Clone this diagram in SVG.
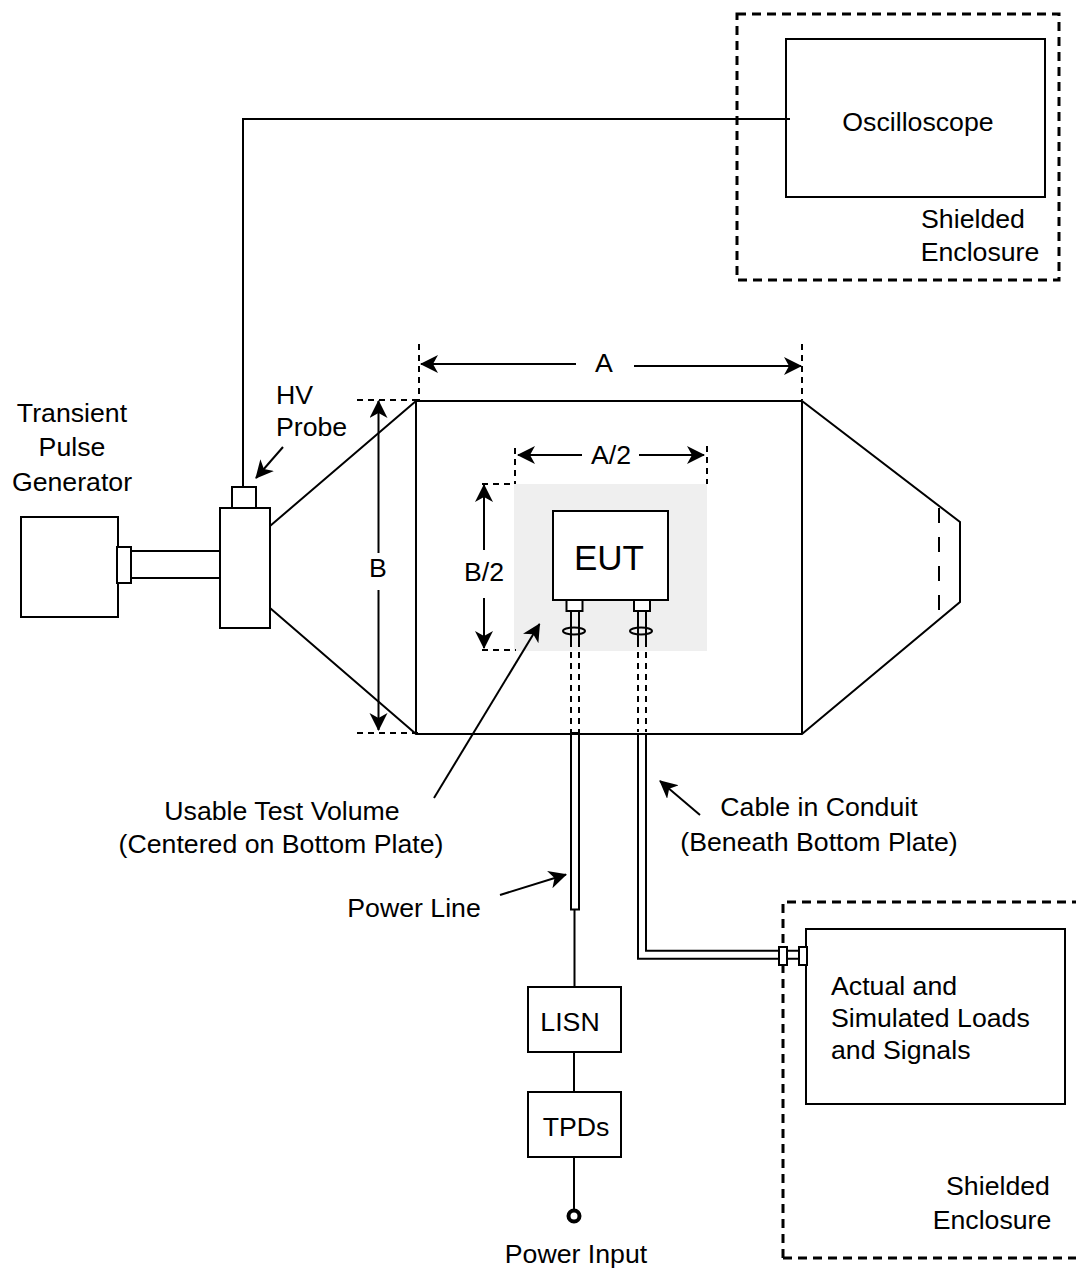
<svg xmlns="http://www.w3.org/2000/svg" width="1076" height="1270" viewBox="0 0 1076 1270">
<style>
text{font-family:"Liberation Sans",Arial,sans-serif;font-size:26.7px;fill:#000;text-anchor:middle}
.s{fill:none;stroke:#000;stroke-width:2}
.b{fill:#fff;stroke:#000;stroke-width:2}
.d{fill:none;stroke:#000;stroke-width:3;stroke-dasharray:9 6}
.e{fill:none;stroke:#000;stroke-width:2;stroke-dasharray:6 5}
.a{fill:none;stroke:#000;stroke-width:2;marker-end:url(#ah)}
</style>
<defs><marker id="ah" markerUnits="userSpaceOnUse" markerWidth="20" markerHeight="20" refX="17" refY="9" orient="auto"><path d="M0 0L18 9L0 18L5 9Z" fill="#000"/></marker></defs>
<rect id="test-volume" x="514" y="484" width="193" height="167" fill="#efefef"/>
<g id="connectors">
<path class="s" d="M243 488V119H786"/>
<path class="s" d="M270 526L416 401H802L960 522V602L802 734H416L270 608"/>
<path class="s" d="M416 401V734M802 401V734"/>
<path class="e" style="stroke-dasharray:15 14" d="M939 508V612"/>
<path class="s" d="M131 551H220M131 578H220"/>
<path class="e" d="M357 400H418M419 344V400M357 733H418M802 344V400M515 448V484M707 446V484M482 484H515M482 650H516"/>
<path class="a" d="M378.500 553V401"/><path class="a" d="M378.500 590V730"/>
<path class="a" d="M576 364H421"/><path class="a" d="M634 366H801"/>
<path class="a" d="M582 455H518"/><path class="a" d="M639 455H704"/>
<path class="a" d="M484 550V485"/><path class="a" d="M484 598V648"/>
<path class="a" d="M283 447L256 478"/>
<path class="a" d="M434 798L539.500 624"/>
<path class="a" d="M500 895L566 874.500"/>
<path class="a" d="M700 815L660 781"/>
<path class="s" d="M571 641V611M579 641V611M638 641V611M646 641V611"/>
<path class="e" d="M571 641V732M579 641V732M638 641V732M646 641V732"/>
<path class="s" d="M571 733V909.500H579V733ZM638 734V958.700H780M646 734V950.700H780M787 950.700H800M787 958.700H800"/>
<path class="s" d="M574.500 910V987M574 1052V1092M574 1157V1209"/>
<ellipse class="s" cx="574" cy="631" rx="11" ry="3.500"/>
<ellipse class="s" cx="641" cy="631" rx="11" ry="3.500"/>
<circle cx="574" cy="1216" r="5.500" fill="#fff" stroke="#000" stroke-width="4"/>
</g>
<g id="oscilloscope"><rect class="b" x="786" y="39" width="259" height="158"/><path class="s" d="M785 119H790"/><text x="918" y="131">Oscilloscope</text></g>
<g id="shield-top"><rect class="d" x="737" y="14" width="322" height="266"/><text x="973" y="228">Shielded</text><text x="980" y="261">Enclosure</text></g>
<g id="generator"><rect class="b" x="21" y="517" width="97" height="100"/><rect class="b" x="117" y="547" width="14" height="36"/><text x="72" y="422">Transient</text><text x="72" y="456">Pulse</text><text x="72" y="491">Generator</text></g>
<g id="probe"><rect class="b" x="232" y="487" width="24" height="21"/><rect class="b" x="220" y="508" width="50" height="120"/><text x="276" y="404" style="text-anchor:start">HV</text><text x="276" y="436" style="text-anchor:start">Probe</text></g>
<g id="eut"><rect class="b" x="553" y="511" width="115" height="89"/><rect class="b" x="566.500" y="600" width="16" height="11"/><rect class="b" x="634" y="600" width="16" height="11"/><text x="609" y="570" style="font-size:35px">EUT</text></g>
<g id="labels">
<text x="604" y="372">A</text><text x="611" y="464">A/2</text><text x="378" y="577">B</text><text x="484" y="581">B/2</text>
<text x="282" y="820">Usable Test Volume</text><text x="281" y="853">(Centered on Bottom Plate)</text>
<text x="414" y="917">Power Line</text>
<text x="819" y="816">Cable in Conduit</text><text x="819" y="851">(Beneath Bottom Plate)</text>
<text x="576" y="1263">Power Input</text>
</g>
<g id="lisn"><rect class="b" x="528" y="987" width="93" height="65"/><text x="570" y="1031">LISN</text></g>
<g id="tpds"><rect class="b" x="528" y="1092" width="93" height="65"/><text x="576" y="1136">TPDs</text></g>
<g id="shield-bottom"><path class="d" d="M783 1258V902H1076"/><path class="d" d="M783 1258H1076"/><text x="998" y="1195">Shielded</text><text x="992" y="1229">Enclosure</text></g>
<g id="loads"><rect class="b" x="806" y="929" width="259" height="175"/><rect class="b" x="779" y="947" width="8" height="18"/><rect class="b" x="799" y="947" width="8" height="18"/>
<text x="831" y="995" style="text-anchor:start">Actual and</text><text x="831" y="1027" style="text-anchor:start">Simulated Loads</text><text x="831" y="1059" style="text-anchor:start">and Signals</text></g>
</svg>
